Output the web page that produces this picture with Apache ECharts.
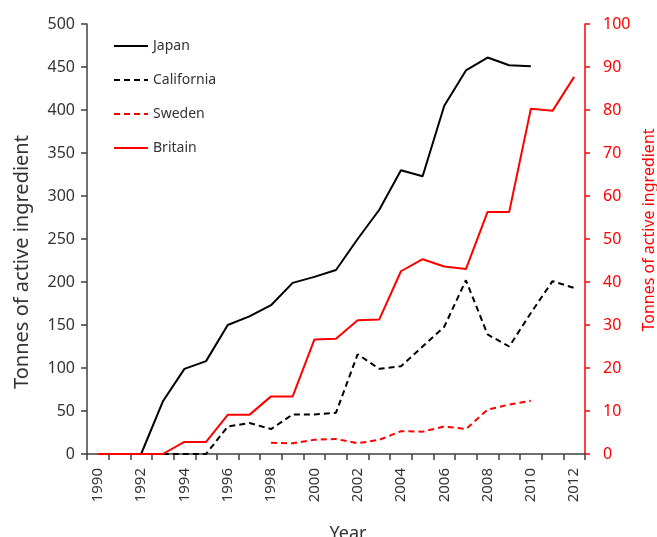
<!DOCTYPE html>
<html><head><meta charset="utf-8">
<script src="https://cdn.jsdelivr.net/npm/echarts@6/dist/echarts.min.js"></script>
<style>html,body{margin:0;padding:0;background:#fff}#c{width:657px;height:537px}</style>
</head><body><div id="c"></div>
<script>
const years = ['1990','1991','1992','1993','1994','1995','1996','1997','1998','1999','2000','2001','2002','2003','2004','2005','2006','2007','2008','2009','2010','2011','2012'];
const japan = [null,null,0,61,99,108,150,160,173,199,206,214,250,284,330,323,405,446,461,452,451,null,null];
const california = [null,null,null,0,0,0,32,36,29,46,46,48,116,99,102,125,148,202,139,125,164,201,193];
const sweden = [null,null,null,null,null,null,null,null,2.6,2.5,3.3,3.5,2.5,3.3,5.3,5.2,6.4,5.8,10.3,11.5,12.4,null,null];
const britain = [0,0,0,0,2.8,2.8,9.1,9.1,13.4,13.4,26.6,26.8,31.1,31.3,42.5,45.3,43.6,43,56.3,56.3,80.3,79.8,87.7];
const leftTicks = {min:0,max:500,interval:50};
const rightTicks = {min:0,max:100,interval:10};

const FONT = 'Noto Sans';
const chart = echarts.init(document.getElementById('c'));
chart.setOption({
  animation:false,
  textStyle:{fontFamily:FONT},
  grid:{left:87,right:72,top:24,bottom:83,containLabel:false,outerBoundsMode:'none'},
  legend:{
    orient:'vertical', left:108, top:34, itemWidth:34, itemHeight:10, itemGap:20,
    itemStyle:{opacity:0},
    textStyle:{fontSize:14,color:'#333',fontFamily:FONT},
    data:['Japan','California','Sweden','Britain']
  },
  xAxis:{
    type:'category', data:years, boundaryGap:true,
    name:'Year', nameLocation:'middle', nameGap:71,
    nameTextStyle:{fontSize:18,color:'#333',padding:[0,0,0,24]},
    axisLine:{lineStyle:{color:'#404040',width:1.5}},
    axisTick:{show:true,interval:0,length:6,lineStyle:{color:'#404040',width:1.5}},
    axisLabel:{interval:1,rotate:90,fontSize:15,color:'#333',margin:14}
  },
  yAxis:[{
    type:'value', min:leftTicks.min, max:leftTicks.max, interval:leftTicks.interval, position:'left',
    name:'Tonnes of active ingredient', nameLocation:'middle', nameGap:55,
    nameTextStyle:{fontSize:20,color:'#333',padding:[0,46,0,0]},
    axisLine:{show:true,lineStyle:{color:'#404040',width:1.5}},
    axisTick:{show:true,length:6,lineStyle:{color:'#404040',width:1.5}},
    axisLabel:{fontSize:16,color:'#333',margin:12},
    splitLine:{show:false}
  },{
    type:'value', min:rightTicks.min, max:rightTicks.max, interval:rightTicks.interval, position:'right',
    name:'Tonnes of active ingredient', nameLocation:'middle', nameGap:53,
    nameTextStyle:{fontSize:16,color:'#ff0000',padding:[0,0,0,18]},
    axisLine:{show:true,lineStyle:{color:'#ff0000',width:1.5}},
    axisTick:{show:true,length:5,lineStyle:{color:'#ff0000',width:1.5}},
    axisLabel:{fontSize:16,color:'#ff0000',margin:18},
    splitLine:{show:false}
  }],
  series:[
    {name:'Japan',type:'line',data:japan,yAxisIndex:0,symbol:'none',
      lineStyle:{color:'#000',width:2},itemStyle:{color:'#000'}},
    {name:'California',type:'line',data:california,yAxisIndex:0,symbol:'none',
      lineStyle:{color:'#000',width:2,type:[6,4]},itemStyle:{color:'#000'}},
    {name:'Sweden',type:'line',data:sweden,yAxisIndex:1,symbol:'none',
      lineStyle:{color:'#ff0000',width:2,type:[6,4]},itemStyle:{color:'#ff0000'}},
    {name:'Britain',type:'line',data:britain,yAxisIndex:1,symbol:'none',
      lineStyle:{color:'#ff0000',width:2},itemStyle:{color:'#ff0000'}}
  ]
});
</script></body></html>
